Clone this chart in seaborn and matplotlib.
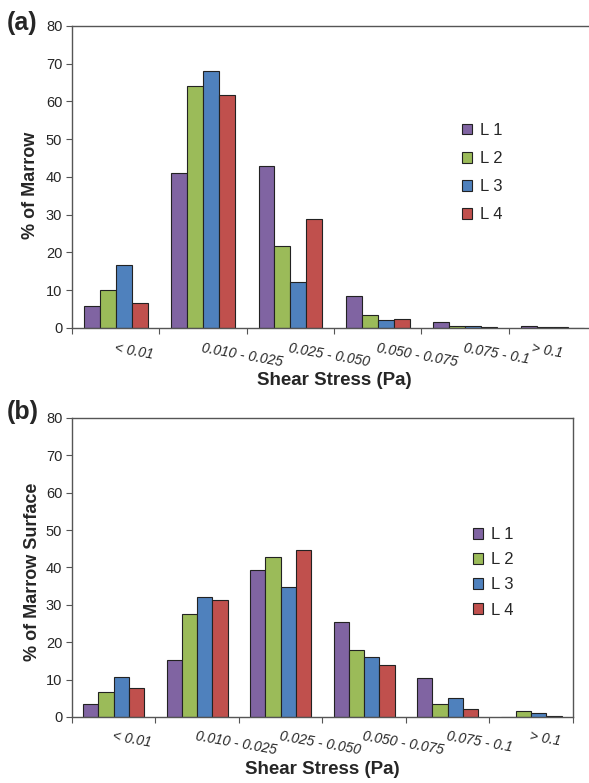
import numpy as np
import pandas as pd
import matplotlib
matplotlib.use("Agg")
import matplotlib.pyplot as plt
import seaborn as sns
from matplotlib.patches import Patch

sns.set_style("white")
plt.rcParams['font.family'] = ['Liberation Sans', 'DejaVu Sans']

categories = ["< 0.01", "0.010 - 0.025", "0.025 - 0.050",
              "0.050 - 0.075", "0.075 - 0.1", "> 0.1"]
series = ["L 1", "L 2", "L 3", "L 4"]
colors = ["#8064A2", "#9BBB59", "#4F81BD", "#C0504D"]

# panel (a): % of Marrow
marrow_L1 = [5.8, 41.0, 42.8, 8.4, 1.6, 0.5]
marrow_L2 = [10.0, 64.0, 21.8, 3.4, 0.6, 0.2]
marrow_L3 = [16.8, 68.2, 12.3, 2.1, 0.4, 0.15]
marrow_L4 = [6.5, 61.6, 29.0, 2.4, 0.2, 0.1]

# panel (b): % of Marrow Surface
surface_L1 = [3.4, 15.2, 39.3, 25.4, 10.3, 0.0]
surface_L2 = [6.6, 27.6, 42.8, 17.8, 3.6, 1.5]
surface_L3 = [10.8, 32.0, 34.8, 16.0, 5.1, 1.2]
surface_L4 = [7.7, 31.3, 44.7, 13.9, 2.1, 0.2]

# where each tick label starts, relative to its category centre
shift_a = [0.0, 0.0, 0.0, 0.0, 0.0, -0.22]
shift_b = [0.0, 0.0, 0.0, 0.0, 0.0, 0.0]


def long_df(vals):
    rows = []
    for s, v in zip(series, vals):
        for c, y in zip(categories, v):
            rows.append({"cat": c, "series": s, "val": y})
    return pd.DataFrame(rows)


def draw(ax, df, ylabel, ylab_y, leg_anchor, leg_space, spine_right, shift):
    sns.barplot(data=df, x="cat", y="val", hue="series", order=categories,
                hue_order=series, palette=colors, edgecolor="#222222",
                linewidth=0.8, width=0.73, saturation=1, ax=ax, legend=False)
    ax.set_ylim(0, 80)
    ax.set_xlim(-0.5, 5.5)
    ax.set_yticks(range(0, 81, 10))
    ax.tick_params(axis="y", which="major", direction="out", length=4,
                   width=0.8, color="#555555", labelsize=10.5, left=True,
                   pad=3)
    ax.set_xticks(range(6))
    ax.set_xticklabels([])
    ax.tick_params(axis="x", which="major", length=0)
    ax.set_xticks(np.arange(-0.5, 6.0, 1.0), minor=True)
    ax.tick_params(axis="x", which="minor", direction="out", length=4,
                   width=0.8, color="#555555", bottom=True)
    trans = ax.get_xaxis_transform()
    for i, c in enumerate(categories):
        ax.text(i + shift[i], -0.042, c, transform=trans, rotation=-10,
                rotation_mode="anchor", ha="left", va="top", fontsize=10,
                style="italic")
    ax.set_xlabel("Shear Stress (Pa)", fontsize=13.5, fontweight="bold")
    ax.xaxis.set_label_coords(0.5, -0.146)
    ax.set_ylabel(ylabel, fontsize=13, fontweight="bold")
    ax.yaxis.set_label_coords(-0.062, ylab_y)
    for side in ["left", "bottom", "top", "right"]:
        ax.spines[side].set_color("#555555")
        ax.spines[side].set_linewidth(1.0)
    ax.spines["right"].set_visible(spine_right)
    handles = [Patch(facecolor=col, edgecolor="#222222", linewidth=0.8,
                     label=s) for col, s in zip(colors, series)]
    ax.legend(handles=handles, loc="upper left", bbox_to_anchor=leg_anchor,
              frameon=False, fontsize=12, handlelength=0.6,
              handleheight=0.6, handletextpad=0.5, labelspacing=leg_space,
              borderpad=0, borderaxespad=0)


fig = plt.figure(figsize=(5.89, 7.83), dpi=100)
ax1 = fig.add_axes([0.1222, 0.5811, 0.890, 0.3857])
ax2 = fig.add_axes([0.1222, 0.0843, 0.8506, 0.3819])

draw(ax1, long_df([marrow_L1, marrow_L2, marrow_L3, marrow_L4]),
     "% of Marrow", 0.472, (0.744, 0.679), 0.79, False, shift_a)
draw(ax2, long_df([surface_L1, surface_L2, surface_L3, surface_L4]),
     "% of Marrow Surface", 0.485, (0.800, 0.635), 0.61, True, shift_b)

fig.text(7 / 589, 1 - 23 / 783, "(a)", fontsize=18, fontweight="bold",
         ha="left", va="center")
fig.text(7 / 589, 1 - 412 / 783, "(b)", fontsize=18, fontweight="bold",
         ha="left", va="center")

fig.savefig("out.png", dpi=100)
